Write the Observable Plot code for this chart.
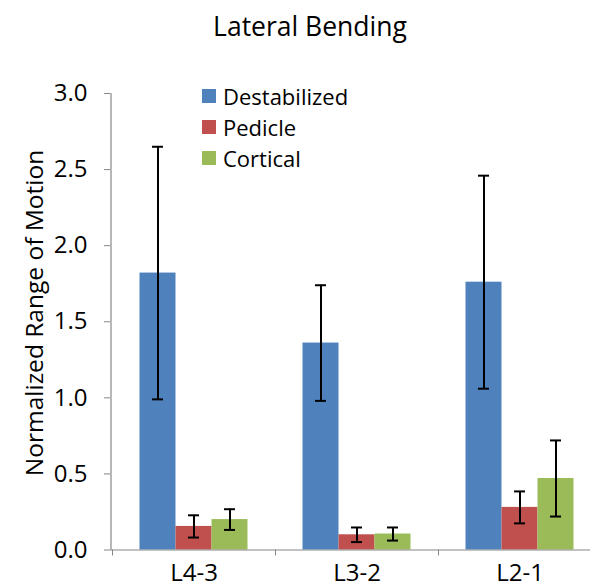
<!DOCTYPE html>
<html><head><meta charset="utf-8">
<script src="https://cdn.jsdelivr.net/npm/d3@7"></script>
<script src="https://cdn.jsdelivr.net/npm/@observablehq/plot@0.6"></script>
<style>
body{margin:0;overflow:hidden;background:#fff;font-family:"Open Sans",sans-serif;color:#000}
#wrap{position:relative;width:590px;height:588px;overflow:hidden}
#wrap svg{position:absolute;left:0;top:0}
#title{position:absolute;left:310px;top:26px;transform:translate(-50%,-50%);font-size:26.5px;white-space:nowrap}
#ytitle{position:absolute;left:33px;top:313px;transform:translate(-50%,-50%) rotate(-90deg);font-size:24.5px;white-space:nowrap}
#legend{position:absolute;left:202px;top:80px;font-size:22px}
.item{display:flex;align-items:center;height:31px}
.sw{width:14px;height:14px;margin-right:7px}
</style></head><body>
<div id="wrap">
<div id="title">Lateral Bending</div>
<div id="ytitle">Normalized Range of Motion</div>
<div id="legend"></div>
</div>
<script>
const categories = ["L4-3", "L3-2", "L2-1"];
const seriesNames = ["Destabilized", "Pedicle", "Cortical"];
const destabilized = [1.82, 1.36, 1.76];
const destabilizedErr = [0.83, 0.38, 0.70];
const pedicle = [0.155, 0.10, 0.28];
const pedicleErr = [0.073, 0.048, 0.105];
const cortical = [0.20, 0.105, 0.47];
const corticalErr = [0.068, 0.043, 0.25];
const yTicks = [0, 0.5, 1.0, 1.5, 2.0, 2.5, 3.0];
const colors = ["#4F81BD", "#C0504D", "#9BBB59"];

const values = [destabilized, pedicle, cortical];
const errs = [destabilizedErr, pedicleErr, corticalErr];
const rows = [];
seriesNames.forEach((s, i) => categories.forEach((c, j) => rows.push({
  cat: c, series: s, value: values[i][j], lo: values[i][j] - errs[i][j], hi: values[i][j] + errs[i][j]
})));

const band = 163, barW = 36, groupStart = 27.5, cap = 11;
const gray = "#868686";
const marks = [];
seriesNames.forEach((s, i) => {
  const data = rows.filter(r => r.series === s);
  const l = groupStart + i * barW;
  marks.push(Plot.barY(data, {x: "cat", y: "value", fill: colors[i], insetLeft: l, insetRight: band - l - barW}));
});
marks.push(Plot.ruleY([0], {stroke: gray, strokeWidth: 1.2}));
marks.push(Plot.ruleX([categories[0]], {x: d => d, dx: -83, y1: 0, y2: 3, stroke: gray, strokeWidth: 1.2}));
seriesNames.forEach((s, i) => {
  const data = rows.filter(r => r.series === s);
  const c = groupStart + i * barW + barW / 2;
  marks.push(Plot.ruleX(data, {x: "cat", y1: "lo", y2: "hi", dx: c - band / 2, stroke: "#000", strokeWidth: 2}));
  for (const k of ["lo", "hi"]) {
    marks.push(Plot.tickY(data, {x: "cat", y: k, insetLeft: c - cap / 2, insetRight: band - c - cap / 2, stroke: "#000", strokeWidth: 2}));
  }
});
marks.push(Plot.axisY(yTicks, {tickFormat: d3.format(".1f"), tickSize: 6, tickPadding: 17, fontSize: 24, stroke: gray, fill: "#000", label: null}));
marks.push(Plot.axisX({tickSize: 6, tickFormat: () => "", dx: -band / 2, stroke: gray, label: null}));
marks.push(Plot.axisX({tickSize: 0, tickPadding: 14, fontSize: 24, fill: "#000", label: null}));

const chart = Plot.plot({
  width: 590, height: 588,
  marginTop: 93, marginBottom: 38.5, marginLeft: 110, marginRight: 0,
  style: {fontFamily: "'Open Sans', sans-serif", background: "transparent", overflow: "hidden"},
  x: {type: "band", domain: categories, range: [111.5, 600.5], padding: 0},
  y: {domain: [0, 3]},
  marks
});
const wrap = document.getElementById("wrap");
wrap.insertBefore(chart, wrap.firstChild);

const legend = document.getElementById("legend");
seriesNames.forEach((s, i) => {
  const it = document.createElement("div");
  it.className = "item";
  it.innerHTML = `<div class="sw" style="background:${colors[i]}"></div><span>${s}</span>`;
  legend.appendChild(it);
});
</script>
</body></html>
